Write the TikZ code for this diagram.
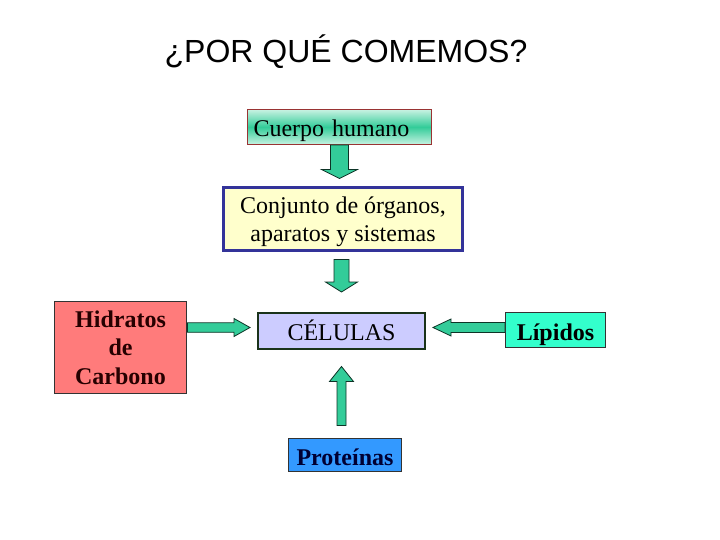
\documentclass[tikz,border=0pt]{standalone}
\usepackage{fontspec}
\setmainfont{Liberation Serif}
\newfontfamily\titlefont{Liberation Sans}
\usetikzlibrary{calc}

\definecolor{cuerpotop}{HTML}{C8F2E2}
\definecolor{cuerpomid}{HTML}{33CC99}
\definecolor{cuerpoline}{HTML}{993333}
\definecolor{conjfill}{HTML}{FFFFCC}
\definecolor{conjline}{HTML}{333399}
\definecolor{celfill}{HTML}{CCCCFF}
\definecolor{celline}{HTML}{1A331A}
\definecolor{hidfill}{HTML}{FF7B7B}
\definecolor{lipfill}{HTML}{33FFCC}
\definecolor{protfill}{HTML}{3399FF}
\definecolor{arrowgreen}{HTML}{33CC99}
\definecolor{arrowline}{HTML}{0D3326}

\begin{document}
\begin{tikzpicture}[x=1pt,y=-1pt]
    \tikzstyle{box}=[inner sep=0pt,line width=1pt,draw=black!80,align=center,font=\fontsize{24}{28}\selectfont]
    \tikzstyle{oneline}=[text height=23pt,text depth=3pt]
    \tikzstyle{food}=[box,font=\fontsize{24}{28.5}\selectfont\bfseries]
    \tikzstyle{fwd}=[draw=arrowline,line width=0.8pt,fill=arrowgreen]
    % fat arrow: gap at start, gap at end, shaft half width, head half width, head length
    \tikzset{fat/.style n args={5}{to path={
        let \p1=($(\tikztostart)!#1!(\tikztotarget)$),
            \p2=($(\tikztotarget)!#2!(\tikztostart)$),
            \p3=($(\p2)!#5!(\p1)$) in
        ($(\p1)!#3!90:(\p2)$) -- ($(\p3)!#3!90:(\p2)$) -- ($(\p3)!#4!90:(\p2)$) -- (\p2)
        -- ($(\p3)!#4!-90:(\p2)$) -- ($(\p3)!#3!-90:(\p2)$) -- ($(\p1)!#3!-90:(\p2)$) -- cycle}}}

    \useasboundingbox (0,0) rectangle (720,540);

    \node[font=\titlefont\fontsize{32}{36}\selectfont] (title) at (346,52) {¿POR QUÉ COMEMOS?};

    \node[box,oneline,draw=cuerpoline,top color=cuerpotop,bottom color=cuerpotop,middle color=cuerpomid,
          minimum width=184,minimum height=35,text width=172,align=left] (cuerpo) at (339.5,127) {Cuerpo humano};
    \node[box,draw=conjline,fill=conjfill,line width=3pt,text depth=0pt,minimum width=239,minimum height=63] (conjunto) at (343,219) {Conjunto de órganos,\\aparatos y sistemas};
    \node[box,oneline,draw=celline,fill=celfill,line width=2pt,minimum width=167,minimum height=36] (celulas) at (341.5,330.5) {CÉLULAS};

    \node[food,fill=hidfill,text=black!85!red,minimum width=132,minimum height=92] (hidratos) at (120.5,347.5) {Hidratos\\de\\Carbono};
    \node[food,oneline,fill=lipfill,minimum width=100,minimum height=35] (lipidos) at (555.5,330) {Lípidos};
    \node[food,oneline,fill=protfill,text=black!80!blue,minimum width=113,minimum height=33] (proteinas) at (345,455) {Proteínas};

    \draw[fwd,fat={0pt}{7.5pt}{9pt}{18pt}{9pt}] (cuerpo.south) to (cuerpo.south |- conjunto.north);
    \draw[fwd,fat={7.5pt}{19.5pt}{7.5pt}{16pt}{10pt}] (celulas.north |- conjunto.south) to (celulas.north);
    \draw[fwd,fat={0.5pt}{7pt}{4.75pt}{9pt}{16pt}] ($(hidratos.east |- celulas.west)+(0,-3)$) to ($(celulas.west)+(0,-3)$);
    \draw[fwd,fat={0pt}{7pt}{5pt}{8.5pt}{18pt}] ($(lipidos.west |- celulas.east)+(0,-3)$) to ($(celulas.east)+(0,-3)$);
    \draw[fwd,fat={12.5pt}{17pt}{4.5pt}{12pt}{15pt}] (celulas.south |- proteinas.north) to (celulas.south);

\end{tikzpicture}
\end{document}
